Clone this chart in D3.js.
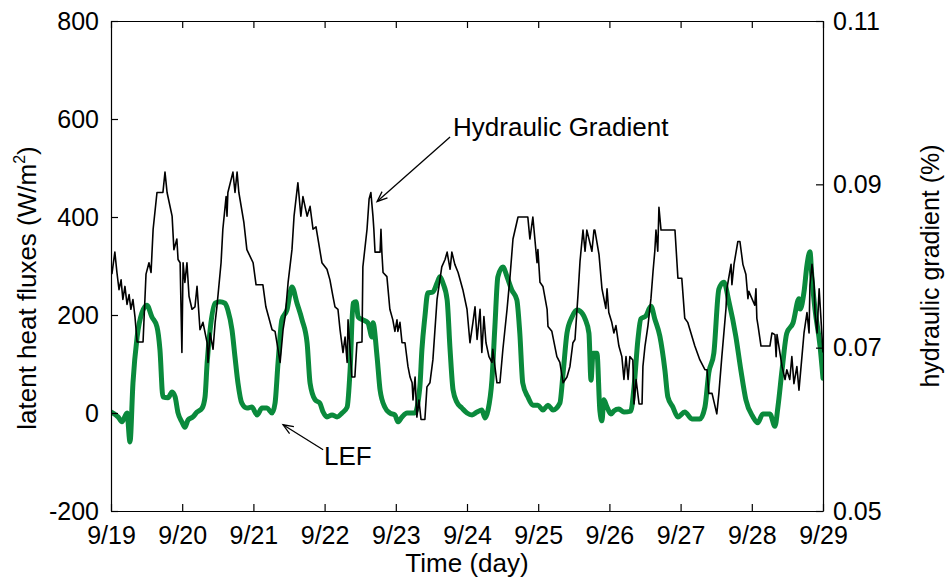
<!DOCTYPE html>
<html><head><meta charset="utf-8">
<script src="https://cdn.jsdelivr.net/npm/d3@7"></script>
<style>
body{margin:0;background:#fff}
text{font-family:Arial,"Liberation Sans",Helvetica,sans-serif}
</style>
</head><body>
<svg id="chart" width="948" height="580"></svg>
<script>
// ---- tick labels ----
const dayTicks = [0, 24, 48, 72, 96, 120, 144, 168, 192, 216, 240]; // hours since 9/19 00:00
const dayLabels = ["9/19","9/20","9/21","9/22","9/23","9/24","9/25","9/26","9/27","9/28","9/29"];
const leftTicks = [-200, 0, 200, 400, 600, 800];
const rightTicks = [0.05, 0.07, 0.09, 0.11];

// ---- LEF series (latent heat flux, W/m2) ----
const lefHours = [0,2.4,3.7,5.4,6.4,7.4,8.8,10.4,12.1,13.8,
15.5,16.5,17.5,19.2,20.6,21.6,22.6,23.9,24.9,26.0,
27.6,29.0,30.7,31.7,32.4,33.4,35.1,36.7,38.4,39.4,
40.8,41.8,42.8,44.1,45.8,47.5,49.2,50.9,52.6,54.3,
55.3,56.3,57.6,59.3,61.0,62.7,64.4,66.1,67.1,68.8,
70.4,71.5,72.8,74.5,76.2,77.9,79.6,80.6,81.6,82.6,
83.3,84.9,86.6,88.0,88.3,89.7,90.7,92.3,94.0,95.7,
96.7,98.1,99.8,102.4,104.1,104.8,105.8,106.8,108.5,109.9,
110.9,111.9,113.3,114.3,115.3,116.6,118.3,120.0,121.7,123.4,
125.0,126.1,127.1,128.4,129.4,130.4,132.1,133.5,135.1,136.8,
137.8,138.8,140.5,142.2,143.9,145.6,147.3,149.0,151.3,152.4,
153.7,155.4,157.1,158.1,159.8,161.1,161.8,162.5,163.8,164.8,
165.5,166.1,167.2,168.5,169.5,171.2,172.9,175.2,176.3,177.6,
178.6,180.3,182.0,183.3,185.0,186.7,187.7,189.4,191.1,193.4,
195.8,198.5,200.2,201.5,203.2,204.9,206.6,208.3,210.6,212.3,
214.0,216.4,218.0,219.7,222.1,223.8,224.8,226.2,227.8,229.9,
231.9,232.3,233.6,234.6,235.6,236.3,237.3,239.0,240];
const lefValues = [2,-8,-18,0,-59,61,155,204,220,196,
176,129,33,31,43,33,0,-18,-29,-14,
-8,2,10,33,102,169,224,227,224,210,
169,114,61,20,10,12,-4,10,10,0,
20,102,190,210,257,224,190,143,61,27,
20,2,-8,-4,-8,0,12,88,224,227,
196,190,184,155,184,114,47,12,0,-4,
-18,-8,0,0,53,129,196,245,247,265,
278,265,231,129,47,22,10,0,-4,2,
6,-10,6,67,176,278,298,278,251,231,
163,61,33,16,16,6,16,6,20,82,
163,196,210,208,192,163,67,122,122,4,
-16,27,12,-2,4,8,2,4,53,149,
192,198,218,192,157,88,33,12,-8,2,
-12,-12,12,82,122,253,267,227,157,88,
27,-8,-20,-2,-2,-27,12,88,163,184,
233,212,247,302,329,273,212,137,71];

// ---- Hydraulic gradient series [hour, %] ----
const hgSeries = [
[0.3,.0790],[1.3,.0817],[2.0,.0792],[2.7,.0771],[3.4,.0783],[4.0,.0759],[4.7,.0775],[5.4,.0753],[6.1,.0765],[6.7,.0747],
[7.4,.0759],[8.1,.0737],[8.8,.0707],[10.8,.0707],[11.8,.0790],[12.8,.0804],[13.5,.0792],[14.2,.0845],[15.5,.0890],[17.5,.0890],
[18.2,.0915],[18.9,.0890],[20.6,.0861],[21.2,.0820],[22.2,.0833],[22.6,.0808],[23.3,.0804],[23.9,.0694],[24.3,.0804],[24.9,.0780],
[25.6,.0804],[26.3,.0763],[27.3,.0747],[28.3,.0750],[29.0,.0775],[30.0,.0722],[31.0,.0731],[32.4,.0706],[32.7,.0682],[33.4,.0718],
[34.4,.0698],[35.1,.0731],[35.7,.0750],[37.1,.0804],[37.7,.0845],[38.8,.0885],[39.1,.0861],[39.4,.0890],[41.1,.0915],[41.8,.0890],
[42.5,.0915],[43.1,.0890],[44.8,.0853],[45.8,.0820],[47.9,.0804],[48.9,.0777],[51.2,.0777],[52.2,.0750],[54.3,.0722],[55.3,.0720],
[56.3,.0698],[57.0,.0682],[58.0,.0722],[58.7,.0738],[59.7,.0780],[61.0,.0820],[61.7,.0861],[63.0,.0902],[64.0,.0861],[64.7,.0885],
[66.1,.0861],[67.1,.0873],[68.1,.0845],[69.1,.0848],[71.1,.0804],[72.8,.0796],[73.8,.0783],[74.8,.0763],[75.5,.0750],[76.5,.0747],
[77.2,.0722],[78.2,.0694],[78.9,.0713],[79.6,.0682],[79.9,.0734],[81.2,.0664],[82.2,.0664],[82.9,.0706],[84.6,.0707],[84.9,.0799],
[86.3,.0845],[87.0,.0882],[87.6,.0890],[88.3,.0861],[88.6,.0845],[89.0,.0817],[90.7,.0817],[91.0,.0845],[91.3,.0817],[91.7,.0792],
[93.0,.0787],[94.0,.0747],[95.0,.0734],[95.7,.0720],[96.4,.0734],[96.7,.0720],[97.4,.0731],[98.1,.0706],[99.1,.0706],[100.1,.0677],
[100.8,.0664],[101.5,.0657],[101.8,.0636],[102.5,.0664],[103.1,.0615],[103.8,.0636],[104.5,.0612],[105.8,.0612],[106.5,.0652],[107.5,.0657],
[108.5,.0685],[109.9,.0759],[111.5,.0799],[112.6,.0808],[113.3,.0817],[114.3,.0796],[114.9,.0817],[115.9,.0802],[117.0,.0792],[118.6,.0771],
[120.0,.0747],[121.0,.0706],[122.0,.0731],[122.7,.0750],[123.4,.0710],[124.4,.0747],[125.0,.0694],[125.7,.0738],[126.4,.0706],[127.4,.0689],
[128.4,.0682],[128.7,.0698],[130.1,.0657],[131.1,.0657],[132.1,.0698],[133.5,.0747],[134.5,.0787],[135.5,.0833],[137.2,.0860],[140.5,.0860],
[141.2,.0833],[142.2,.0860],[143.6,.0804],[143.9,.0820],[144.6,.0780],[145.6,.0775],[147.0,.0747],[147.3,.0726],[148.6,.0720],[150.3,.0689],
[151.3,.0682],[152.4,.0657],[153.7,.0664],[154.7,.0677],[155.7,.0706],[156.4,.0710],[157.4,.0764],[158.1,.0806],[159.1,.0844],[159.8,.0818],
[160.4,.0844],[162.1,.0818],[162.8,.0844],[163.1,.0844],[164.5,.0814],[165.5,.0772],[166.8,.0748],[167.2,.0772],[167.8,.0743],[168.8,.0731],
[169.5,.0718],[170.2,.0727],[171.2,.0702],[172.2,.0689],[172.9,.0661],[173.6,.0689],[174.3,.0661],[174.9,.0689],[175.9,.0685],[176.3,.0631],
[177.0,.0661],[178.0,.0631],[179.0,.0631],[179.3,.0677],[180.0,.0702],[181.0,.0727],[182.0,.0760],[182.7,.0793],[183.3,.0818],[183.7,.0844],
[184.3,.0818],[184.7,.0872],[185.4,.0844],[190.1,.0844],[191.1,.0785],[192.4,.0785],[193.4,.0736],[194.4,.0731],[196.8,.0702],[198.5,.0685],
[200.2,.0673],[200.9,.0673],[201.5,.0644],[202.6,.0644],[204.2,.0619],[204.9,.0644],[205.9,.0689],[207.3,.0748],[207.6,.0772],[209.0,.0802],
[209.3,.0777],[210.0,.0802],[211.3,.0830],[212.0,.0830],[213.0,.0802],[214.0,.0790],[214.7,.0760],[215.0,.0769],[217.0,.0752],[217.4,.0772],
[217.7,.0736],[218.1,.0727],[219.1,.0702],[222.1,.0702],[222.8,.0718],[223.8,.0716],[224.2,.0689],[224.5,.0716],[226.2,.0677],[227.2,.0661],
[227.8,.0673],[228.8,.0661],[229.5,.0689],[230.2,.0656],[231.2,.0677],[231.9,.0648],[232.9,.0689],[233.6,.0718],[234.6,.0743],[235.3,.0718],
[235.6,.0777],[236.3,.0802],[237.0,.0777],[237.3,.0743],[238.0,.0718],[238.7,.0772],[240.0,.0694]
];

// ---- annotations (data units) ----
const hgNote = {text:"Hydraulic Gradient", tx:115.3, ty:0.0959, fromX:114.3, fromY:0.0958, toX:89.7, toY:0.0879};
const lefNote = {text:"LEF", tx:71.8, ty:-106, fromX:71.5, fromY:-75, toX:58.0, toY:-24};

// ---- layout ----
const M = {left:111, right:823, top:21, bottom:511};
const FONT = 'Arial, "Liberation Sans", Helvetica, sans-serif';
const svg = d3.select("#chart");

const x = d3.scaleLinear().domain([0, 240]).range([M.left, M.right]);
const yL = d3.scaleLinear().domain([-200, 800]).range([M.bottom, M.top]);
const yR = d3.scaleLinear().domain([0.05, 0.11]).range([M.bottom, M.top]);

svg.append("clipPath").attr("id","clip").append("rect")
  .attr("x", M.left).attr("y", M.top).attr("width", M.right - M.left).attr("height", M.bottom - M.top);

// LEF line (green, thick)
const lefData = d3.zip(lefHours, lefValues);
svg.append("path").datum(lefData)
  .attr("clip-path","url(#clip)")
  .attr("fill","none").attr("stroke","#0a8a3c").attr("stroke-width",5)
  .attr("stroke-linejoin","round").attr("stroke-linecap","round")
  .attr("d", d3.line().curve(d3.curveMonotoneX).x(d => x(d[0])).y(d => yL(d[1])));

// Hydraulic gradient line (black, thin)
svg.append("path").datum(hgSeries)
  .attr("clip-path","url(#clip)")
  .attr("fill","none").attr("stroke","#000").attr("stroke-width",1.6)
  .attr("stroke-linejoin","round")
  .attr("d", d3.line().x(d => x(d[0])).y(d => yR(d[1])));

function styleAxis(g){
  g.attr("font-family", FONT).attr("font-size", 25);
  g.selectAll(".domain").attr("stroke","#000").attr("stroke-width",1.2);
  g.selectAll(".tick line").attr("stroke","#000").attr("stroke-width",1.2);
  g.selectAll(".tick text").attr("fill","#000");
}

svg.append("g").attr("transform",`translate(0,${M.bottom})`)
  .call(d3.axisBottom(x).tickValues(dayTicks).tickFormat((d,i)=>dayLabels[i])
    .tickSizeInner(-7).tickSizeOuter(0).tickPadding(15))
  .call(styleAxis);
svg.append("g").attr("transform",`translate(0,${M.top})`)
  .call(d3.axisTop(x).tickValues(dayTicks).tickFormat("")
    .tickSizeInner(-7).tickSizeOuter(0))
  .call(styleAxis);
svg.append("g").attr("transform",`translate(${M.left},0)`)
  .call(d3.axisLeft(yL).tickValues(leftTicks).tickFormat(d => String(d))
    .tickSizeInner(-7).tickSizeOuter(0).tickPadding(12))
  .call(styleAxis);
svg.append("g").attr("transform",`translate(${M.right},0)`)
  .call(d3.axisRight(yR).tickValues(rightTicks).tickFormat(d3.format(".2f"))
    .tickSizeInner(-7).tickSizeOuter(0).tickPadding(10))
  .call(styleAxis);

// axis titles
svg.append("text").attr("x",(M.left+M.right)/2).attr("y",572)
  .attr("text-anchor","middle").attr("font-size",26).attr("fill","#000")
  .text("Time (day)");
const lt = svg.append("text").attr("transform","translate(36,288) rotate(-90)")
  .attr("text-anchor","middle").attr("font-size",26).attr("fill","#000");
lt.append("tspan").text("latent heat fluxes (W/m");
lt.append("tspan").attr("font-size",16).attr("dy",-11).text("2");
lt.append("tspan").attr("dy",11).text(")");
svg.append("text").attr("transform","translate(939,266) rotate(-90)")
  .attr("text-anchor","middle").attr("font-size",25).attr("fill","#000")
  .text("hydraulic gradient (%)");

// annotations with arrows
function arrow(x1,y1,x2,y2){
  svg.append("line").attr("x1",x1).attr("y1",y1).attr("x2",x2).attr("y2",y2)
    .attr("stroke","#000").attr("stroke-width",1.3);
  const a = Math.atan2(y2-y1, x2-x1), L = 11, w = 0.38;
  const p1 = [x2 - L*Math.cos(a-w), y2 - L*Math.sin(a-w)];
  const p2 = [x2 - L*Math.cos(a+w), y2 - L*Math.sin(a+w)];
  svg.append("path").attr("d",`M${p1[0]},${p1[1]}L${x2},${y2}L${p2[0]},${p2[1]}`)
    .attr("fill","none").attr("stroke","#000").attr("stroke-width",1.3);
}
arrow(x(hgNote.fromX), yR(hgNote.fromY), x(hgNote.toX), yR(hgNote.toY));
svg.append("text").attr("x",x(hgNote.tx)).attr("y",yR(hgNote.ty))
  .attr("font-size",26).attr("fill","#000").text(hgNote.text);
arrow(x(lefNote.fromX), yL(lefNote.fromY), x(lefNote.toX), yL(lefNote.toY));
svg.append("text").attr("x",x(lefNote.tx)).attr("y",yL(lefNote.ty))
  .attr("font-size",26).attr("fill","#000").text(lefNote.text);
</script>
</body></html>
